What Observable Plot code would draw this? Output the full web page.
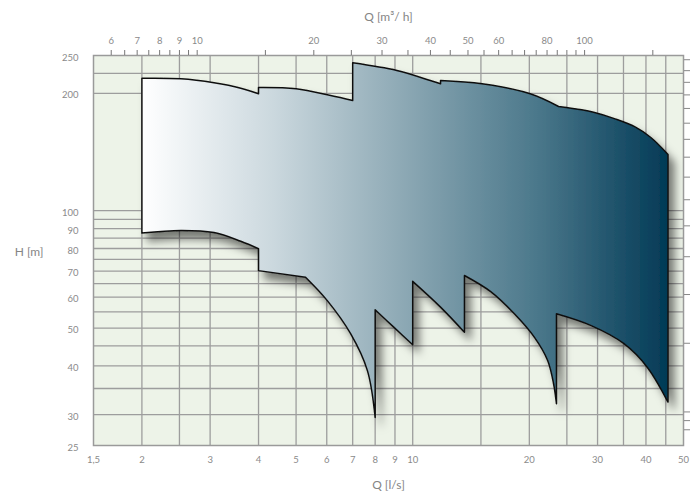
<!DOCTYPE html>
<html>
<head>
<meta charset="utf-8">
<script src="https://cdn.jsdelivr.net/npm/d3@7"></script>
<script src="https://cdn.jsdelivr.net/npm/@observablehq/plot@0.6"></script>
<style>
  html, body { margin: 0; padding: 0; background: #ffffff; }
  #chart { width: 698px; height: 495px; }
</style>
</head>
<body>
<div id="chart"></div>
<script>
// ---- Axis ticks / grid (data values) ----
const xTicks = [1.5, 2, 3, 4, 5, 6, 7, 8, 9, 10, 20, 30, 40, 50];            // Q [l/s]
const xGrid = [2, 2.5, 3, 4, 5, 6, 7, 8, 9, 10, 15, 20, 25, 30, 35, 40, 45];
const yTicks = [25, 30, 40, 50, 60, 70, 80, 90, 100, 200, 250];              // H [m]
const yGrid = [30, 35, 40, 45, 50, 55, 60, 65, 70, 75, 80, 85, 90, 95, 100, 200, 225];
const topLabels = [6, 7, 8, 9, 10, 20, 30, 40, 50, 60, 80, 100];             // Q [m3/h]
const topTicks = [6, 6.5, 7, 7.5, 8, 8.5, 9, 9.5, 10, 15, 20, 25, 30, 35, 40, 45, 50, 55,
                  60, 65, 70, 75, 80, 85, 90, 95, 100, 150];
const rightTicksFt = [90, 95, 100, 150, 200, 250, 300, 350, 400, 450, 500, 550, 600, 650, 700, 750, 800];

// ---- Envelope outline: [Q l/s, H m] ----
// upper boundary, left to right (each sub-array is one smooth piece)
const upperCurve = [
  [[2, 218.6], [2.52, 217.9], [3.07, 212.8], [3.6, 206.1], [4, 199.4]],
  [[4, 206.9], [5, 205.4], [6.14, 197.4], [7, 191.7]],
  [[7, 239.4], [9.1, 228.8], [11.1, 215.7], [11.8, 211.5]],
  [[11.8, 215.7], [15.1, 211.5], [20.1, 199.4], [23.8, 185]],
  [[23.8, 185], [27.3, 181.4], [29.3, 178.8], [33.3, 172], [37.5, 164], [41.1, 154.3], [45.6, 139.4]]
];
// lower boundary, right to left
const lowerCurve = [
  [[45.6, 32.3], [40.3, 39.7], [35.1, 45.6], [28.8, 50.8], [23.5, 54.4]],
  [[23.5, 32.0], [23.1, 36.0], [22.3, 41.3], [20.6, 47.4], [18.3, 54.4], [15.9, 62.0], [13.6, 68.2]],
  [[13.6, 48.8], [11.8, 56.6], [10, 65.9]],
  [[10, 45.3], [8.95, 50.2], [8, 55.7]],
  [[8, 29.5], [7.64, 38.9], [6.92, 48.3], [6.02, 58.8], [5.29, 67.5]],
  [[5.29, 67.5], [4, 70.2]],
  [[4, 79.9], [3.6, 83.5], [3.07, 87.9], [2.52, 89.0], [2, 87.6]]
];

// build closed outline; corner points doubled so the smooth curve keeps sharp corners
const outline = [];
function addPiece(piece) {
  piece.forEach((p, i) => {
    outline.push({q: p[0], h: p[1]});
    if (i === 0 || i === piece.length - 1) outline.push({q: p[0], h: p[1]});
  });
}
upperCurve.forEach(addPiece);
lowerCurve.forEach(addPiece);
outline.push({q: upperCurve[0][0][0], h: upperCurve[0][0][1]});

const M3H = 3.6;       // l/s -> m3/h
const FT = 0.3048;     // ft -> m
const gray = "#8a8a8a";
const fmtX = d => String(d).replace(".", ",");
const yMin = 25, yMax = 250;
const tickTop = yMax * Math.pow(yMax / yMin, 5 / 390);   // 5px above the frame

const chart = Plot.plot({
  width: 698,
  height: 495,
  marginLeft: 93,
  marginRight: 15,
  marginTop: 55,
  marginBottom: 50,
  style: { fontFamily: "Lato, 'Open Sans', sans-serif", fontSize: "9.5px", color: gray, background: "#ffffff" },
  x: { type: "log", domain: [1.5, 50], axis: null },
  y: { type: "log", domain: [yMin, yMax], axis: null },
  marks: [
    Plot.frame({ fill: "#edf3e8", stroke: "none" }),
    Plot.ruleX(xGrid, { stroke: "#9d9d9d", strokeWidth: 1.3 }),
    Plot.ruleY(yGrid, { stroke: "#9d9d9d", strokeWidth: 1.3 }),
    Plot.frame({ stroke: "#9a9a9a", strokeWidth: 1.5 }),
    Plot.line(outline, {
      x: "q", y: "h", curve: "catmull-rom",
      fill: "#7d9aa8", stroke: "#111111", strokeWidth: 1.5
    }),
    // tick marks above the frame (m3/h)
    Plot.ruleX(topTicks, { x: d => d / M3H, y1: yMax, y2: tickTop, stroke: "#777", strokeWidth: 1 }),
    // tick marks right of the frame (feet)
    Plot.axisY({ anchor: "right", ticks: rightTicksFt.map(v => v * FT), tickSize: 6, fill: "none", tickFormat: () => "", stroke: "#888", label: null }),
    // tick labels
    Plot.text(xTicks, { x: d => d, text: fmtX, frameAnchor: "bottom", dy: 17, fill: gray }),
    Plot.text(topLabels, { x: d => d / M3H, text: d => String(d), frameAnchor: "top", dy: -18, fill: gray }),
    Plot.text(yTicks, { y: d => d, text: d => String(d), frameAnchor: "left", dx: -15, dy: 2, textAnchor: "end", fill: gray }),
    // axis titles
    Plot.text(["H [m]"], { text: d => d, frameAnchor: "left", dx: -50, dy: 2, textAnchor: "end", fontSize: 12, fill: "#858585" }),
    Plot.text(["Q [l/s]"], { text: d => d, frameAnchor: "bottom", dy: 43, fontSize: 12, fill: "#858585" }),
    Plot.text(["Q [m³/ h]"], { text: d => d, frameAnchor: "top", dy: -43, fontSize: 12, fill: "#858585" })
  ]
});

// gradient fill and drop shadow for the envelope
const svg = d3.select(chart);
const defs = svg.insert("defs", ":first-child");
const grad = defs.append("linearGradient").attr("id", "envGrad")
  .attr("x1", "0").attr("x2", "1").attr("y1", "0").attr("y2", "0");
[[0, "#ffffff"], [0.25, "#cbd8de"], [0.5, "#8ca8b4"], [0.75, "#4b788b"], [1, "#023a56"]]
  .forEach(([o, c]) => grad.append("stop").attr("offset", o).attr("stop-color", c));
const filt = defs.append("filter").attr("id", "envShadow")
  .attr("x", "-10%").attr("y", "-10%").attr("width", "130%").attr("height", "130%");
filt.append("feDropShadow").attr("dx", 6).attr("dy", 8).attr("stdDeviation", 4.5)
  .attr("flood-color", "#000").attr("flood-opacity", 0.5);
const env = svg.select('g[aria-label="line"]');
env.attr("filter", "url(#envShadow)");
env.selectAll("path").attr("fill", "url(#envGrad)");

document.getElementById("chart").appendChild(chart);
</script>
</body>
</html>
